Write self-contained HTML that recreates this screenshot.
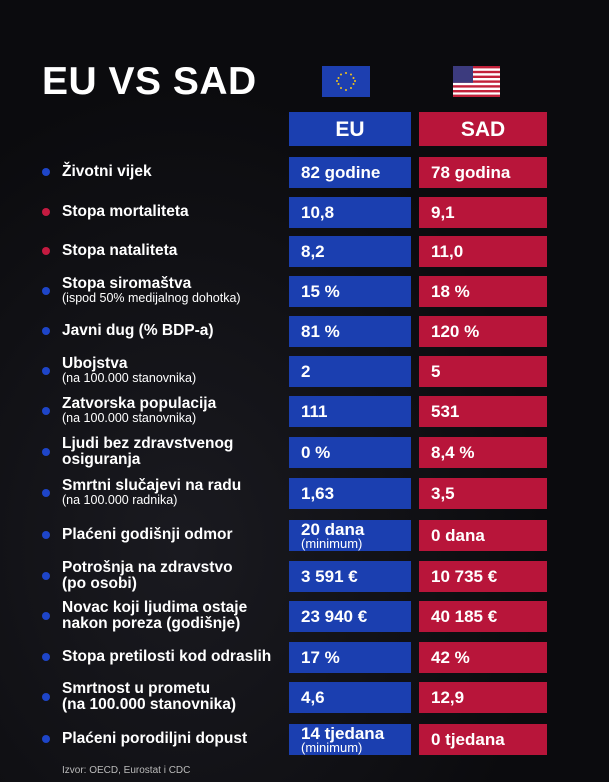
<!DOCTYPE html>
<html><head><meta charset="utf-8"><style>
*{margin:0;padding:0;box-sizing:border-box}
body{width:609px;height:782px;background:#0b0b0e;font-family:"Liberation Sans",sans-serif;color:#fff;position:relative;overflow:hidden}
.bg{position:absolute;inset:0;background:radial-gradient(ellipse at 30% 70%,#1a1a20 0%,#0b0b0e 60%)}
.a{position:absolute}
.t{left:42px;top:60px;font-size:39px;font-weight:bold;letter-spacing:0.5px}
.b{position:absolute;height:31px;font-weight:bold;font-size:17px;padding-left:12px;display:flex;flex-direction:column;justify-content:center;line-height:1}
.eu{left:289px;width:122px;background:#1b3fb0}
.us{left:419px;width:128px;background:#b8153a}
.h{font-size:21px;justify-content:center;align-items:center;padding:0;height:34px}
.l{position:absolute;left:62px;font-size:15.5px;font-weight:bold;line-height:16px}
.l small{display:block;font-size:12.5px;font-weight:normal;line-height:13px}
.d{position:absolute;left:42px;width:8px;height:8px;border-radius:50%;background:#1e45c8}
.r{background:#c41a40}
.s{font-size:13px;font-weight:normal;line-height:12px}
</style></head><body><div class="bg"></div>
<div class="a t">EU VS SAD</div>
<svg class="a" style="left:322px;top:66px" width="48" height="31"><rect width="48" height="31" fill="#1d3fb0"/><g fill="#f5c518"><circle cx="24" cy="7" r="1"/><circle cx="29" cy="8.5" r="1"/><circle cx="31.5" cy="12" r="1"/><circle cx="31.5" cy="18" r="1"/><circle cx="29" cy="22" r="1"/><circle cx="24" cy="24" r="1"/><circle cx="19" cy="22" r="1"/><circle cx="16.5" cy="18" r="1"/><circle cx="16.5" cy="12" r="1"/><circle cx="19" cy="8.5" r="1"/><circle cx="33" cy="15" r="1"/><circle cx="15" cy="15" r="1"/></g></svg>
<svg class="a" style="left:453px;top:66px" width="47" height="31"><rect width="47" height="31" fill="#fff"/><g fill="#c2213a"><rect y="0" width="47" height="2.4"/><rect y="4.8" width="47" height="2.4"/><rect y="9.6" width="47" height="2.4"/><rect y="14.4" width="47" height="2.4"/><rect y="19.2" width="47" height="2.4"/><rect y="24" width="47" height="2.4"/><rect y="28.6" width="47" height="2.4"/></g><rect width="20" height="16.8" fill="#3c3b7e"/></svg>
<div class="b eu h" style="top:112px">EU</div>
<div class="b us h" style="top:112px">SAD</div>

<div class="d" style="top:168px"></div><div class="l" style="top:164px">Životni vijek</div>
<div class="b eu" style="top:157px">82 godine</div><div class="b us" style="top:157px">78 godina</div>

<div class="d r" style="top:208px"></div><div class="l" style="top:204px">Stopa mortaliteta</div>
<div class="b eu" style="top:197px">10,8</div><div class="b us" style="top:197px">9,1</div>

<div class="d r" style="top:247px"></div><div class="l" style="top:243px">Stopa nataliteta</div>
<div class="b eu" style="top:236px">8,2</div><div class="b us" style="top:236px">11,0</div>

<div class="d" style="top:287px"></div><div class="l" style="top:276px">Stopa siromaštva<small>(ispod 50% medijalnog dohotka)</small></div>
<div class="b eu" style="top:276px">15 %</div><div class="b us" style="top:276px">18 %</div>

<div class="d" style="top:327px"></div><div class="l" style="top:323px">Javni dug (% BDP-a)</div>
<div class="b eu" style="top:316px">81 %</div><div class="b us" style="top:316px">120 %</div>

<div class="d" style="top:367px"></div><div class="l" style="top:356px">Ubojstva<small>(na 100.000 stanovnika)</small></div>
<div class="b eu" style="top:356px">2</div><div class="b us" style="top:356px">5</div>

<div class="d" style="top:407px"></div><div class="l" style="top:396px">Zatvorska populacija<small>(na 100.000 stanovnika)</small></div>
<div class="b eu" style="top:396px">111</div><div class="b us" style="top:396px">531</div>

<div class="d" style="top:448px"></div><div class="l" style="top:436px">Ljudi bez zdravstvenog<br>osiguranja</div>
<div class="b eu" style="top:437px">0 %</div><div class="b us" style="top:437px">8,4 %</div>

<div class="d" style="top:489px"></div><div class="l" style="top:478px">Smrtni slučajevi na radu<small>(na 100.000 radnika)</small></div>
<div class="b eu" style="top:478px">1,63</div><div class="b us" style="top:478px">3,5</div>

<div class="d" style="top:531px"></div><div class="l" style="top:527px">Plaćeni godišnji odmor</div>
<div class="b eu" style="top:520px">20 dana<span class="s">(minimum)</span></div><div class="b us" style="top:520px">0 dana</div>

<div class="d" style="top:572px"></div><div class="l" style="top:560px">Potrošnja na zdravstvo<br>(po osobi)</div>
<div class="b eu" style="top:561px">3 591 €</div><div class="b us" style="top:561px">10 735 €</div>

<div class="d" style="top:612px"></div><div class="l" style="top:600px">Novac koji ljudima ostaje<br>nakon poreza (godišnje)</div>
<div class="b eu" style="top:601px">23 940 €</div><div class="b us" style="top:601px">40 185 €</div>

<div class="d" style="top:653px"></div><div class="l" style="top:649px">Stopa pretilosti kod odraslih</div>
<div class="b eu" style="top:642px">17 %</div><div class="b us" style="top:642px">42 %</div>

<div class="d" style="top:693px"></div><div class="l" style="top:681px">Smrtnost u prometu<br>(na 100.000 stanovnika)</div>
<div class="b eu" style="top:682px">4,6</div><div class="b us" style="top:682px">12,9</div>

<div class="d" style="top:735px"></div><div class="l" style="top:731px">Plaćeni porodiljni dopust</div>
<div class="b eu" style="top:724px">14 tjedana<span class="s">(minimum)</span></div><div class="b us" style="top:724px">0 tjedana</div>

<div class="a" style="left:62px;top:765px;font-size:10px;color:#bbb">Izvor: OECD, Eurostat i CDC</div>
</body></html>
